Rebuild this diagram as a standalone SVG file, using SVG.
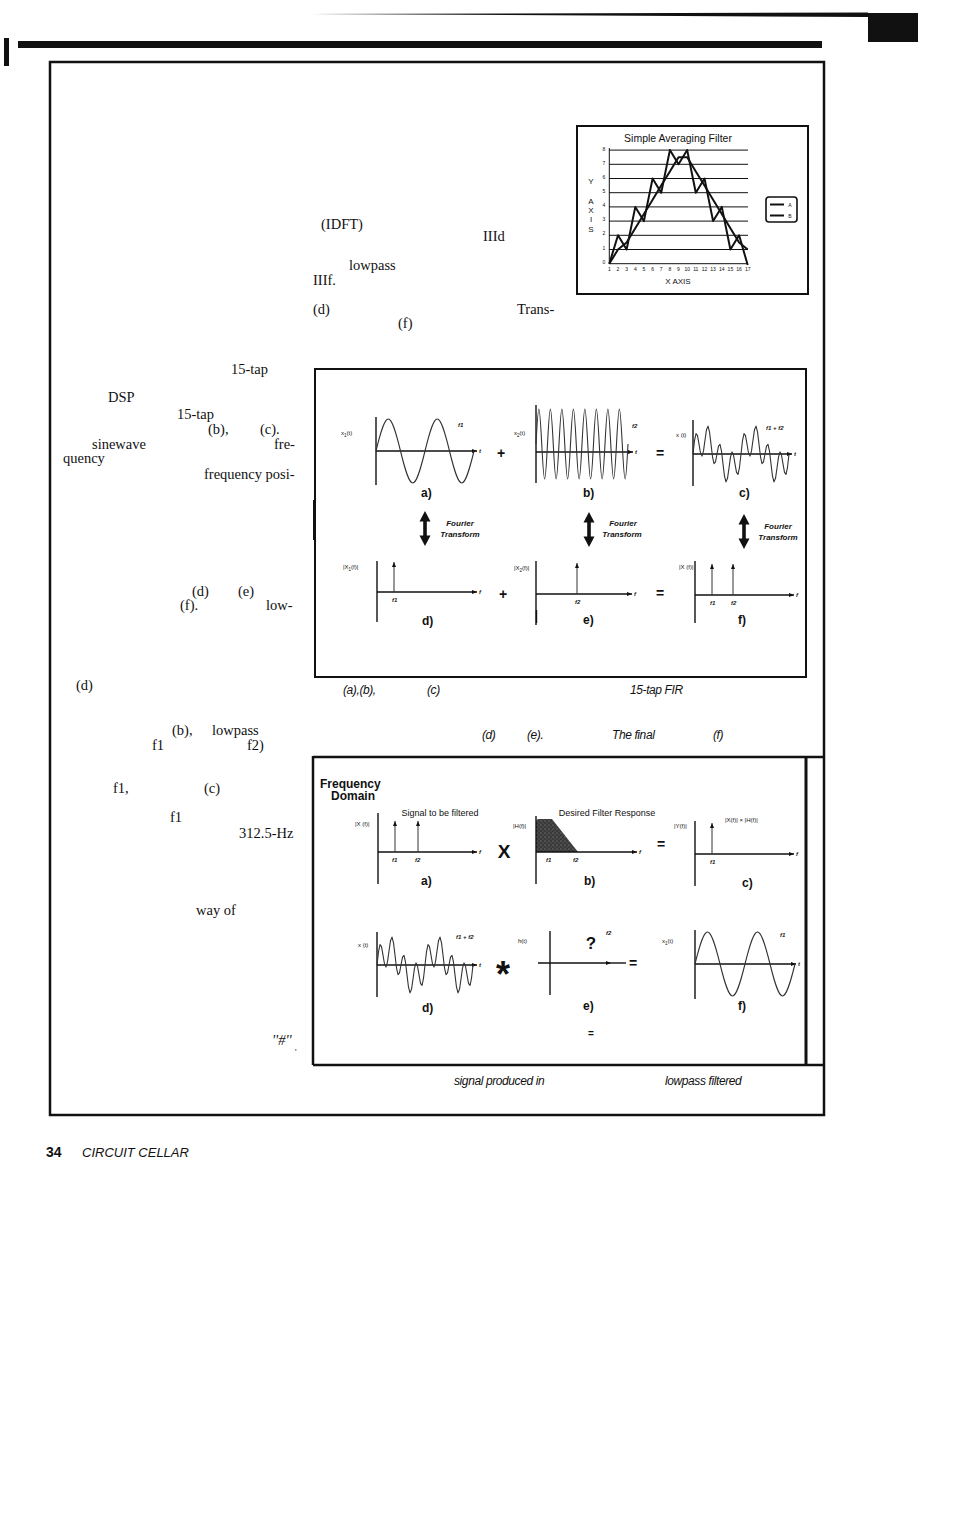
<svg xmlns="http://www.w3.org/2000/svg" width="963" height="1539" viewBox="0 0 963 1539">
<style>
.body{font-family:"Liberation Serif","DejaVu Serif",serif;font-size:14.5px;fill:#111}
.cap{font-family:"Liberation Sans",Arial,sans-serif;font-style:italic;font-size:12px;fill:#111;letter-spacing:-0.4px}
.ttl{font-family:"Liberation Sans",Arial,sans-serif;fill:#111}
.lbl{font-family:"Liberation Sans",Arial,sans-serif;font-size:6px;fill:#111}
.lbi{font-family:"Liberation Sans",Arial,sans-serif;font-size:6px;font-style:italic;font-weight:bold;fill:#111}
.fl{font-family:"Liberation Sans",Arial,sans-serif;font-size:12px;font-weight:bold;fill:#111}
.op{font-family:"Liberation Sans",Arial,sans-serif;font-weight:bold;fill:#111}
.ft{font-family:"Liberation Sans",Arial,sans-serif;font-size:8px;font-weight:bold;font-style:italic;fill:#111;text-anchor:middle}
.ax{stroke:#111;stroke-width:1.4;fill:none}
.axa{stroke:#111;stroke-width:1.4;fill:none;marker-end:url(#tip)}
.imp{stroke:#333;stroke-width:1;fill:none;marker-end:url(#tip)}
.wave{stroke:#333;stroke-width:1.1;fill:none;stroke-linejoin:round}
.frame{fill:none;stroke:#111}
.grid{stroke:#111;stroke-width:1}
.ser{stroke:#111;stroke-width:2;fill:none;stroke-linejoin:round}
.tick{font-family:"Liberation Sans",Arial,sans-serif;font-size:5px;fill:#111;text-anchor:middle}
</style>
<defs>
<marker id="tip" markerUnits="userSpaceOnUse" markerWidth="5" markerHeight="4" refX="5" refY="2" orient="auto"><path d="M0,0 L5,2 L0,4 z" fill="#111"/></marker>
<path id="dblarrow" d="M0,-17.5 L5.5,-7 L1.8,-7 L1.8,7 L5.5,7 L0,17.5 L-5.5,7 L-1.8,7 L-1.8,-7 L-5.5,-7 Z" fill="#111"/>
<polyline id="sumwave" class="wave" points="0,0 1.5,-13.3 3,-20.4 4.5,-18.4 6,-9.9 7.5,-1 9,2.1 10.5,-3.1 12,-14 13.5,-24.3 15,-27.9 16.5,-22.2 18,-9.9 19.5,2.8 21,9.6 22.5,7.9 24,0 25.5,-7.9 27,-9.6 28.5,-2.8 30,9.9 31.5,22.2 33,27.9 34.5,24.3 36,14 37.5,3.1 39,-2.1 40.5,1 42,9.9 43.5,18.4 45,20.4 46.5,13.3 48,0 49.5,-13.3 51,-20.4 52.5,-18.4 54,-9.9 55.5,-1 57,2.1 58.5,-3.1 60,-14 61.5,-24.3 63,-27.9 64.5,-22.2 66,-9.9 67.5,2.8 69,9.6 70.5,7.9 72,0 73.5,-7.9 75,-9.6 76.5,-2.8 78,9.9 79.5,22.2 81,27.9 82.5,24.3 84,14 85.5,3.1 87,-2.1 88.5,1 90,9.9 91.5,18.4 93,20.4 94.5,13.3 96,0"/>
<pattern id="stip" width="4" height="4" patternUnits="userSpaceOnUse"><rect width="4" height="4" fill="#3a3a3a"/><circle cx="1" cy="1" r="0.6" fill="#9a9a9a"/><circle cx="3" cy="3" r="0.5" fill="#777"/></pattern>
</defs>

<g id="page-decor">
<polygon points="310,14 868,12.5 868,17" fill="#111"/>
<rect x="868" y="13" width="50" height="29" fill="#111"/>
<rect x="18" y="41" width="804" height="7" fill="#111"/>
<rect x="4" y="38" width="5" height="28" fill="#111"/>
<rect x="50" y="62" width="774" height="1053" class="frame" stroke-width="2.5"/>
</g>

<g id="body-text">
<text class="body" x="321" y="229">(IDFT)</text>
<text class="body" x="483" y="241">IIId</text>
<text class="body" x="349" y="270">lowpass</text>
<text class="body" x="313" y="285">IIIf.</text>
<text class="body" x="313" y="314">(d)</text>
<text class="body" x="517" y="314">Trans-</text>
<text class="body" x="398" y="328">(f)</text>
<text class="body" x="231" y="374">15-tap</text>
<text class="body" x="108" y="402">DSP</text>
<text class="body" x="177" y="419">15-tap</text>
<text class="body" x="208" y="434">(b),</text>
<text class="body" x="260" y="434">(c).</text>
<text class="body" x="92" y="449">sinewave</text>
<text class="body" x="274" y="449">fre-</text>
<text class="body" x="63" y="463">quency</text>
<text class="body" x="204" y="479">frequency posi-</text>
<text class="body" x="192" y="596">(d)</text>
<text class="body" x="238" y="596">(e)</text>
<text class="body" x="180" y="610">(f).</text>
<text class="body" x="266" y="610">low-</text>
<text class="body" x="76" y="690">(d)</text>
<text class="body" x="172" y="735">(b),</text>
<text class="body" x="212" y="735">lowpass</text>
<text class="body" x="152" y="750">f1</text>
<text class="body" x="247" y="750">f2)</text>
<text class="body" x="113" y="793">f1,</text>
<text class="body" x="204" y="793">(c)</text>
<text class="body" x="170" y="822">f1</text>
<text class="body" x="239" y="838">312.5-Hz</text>
<text class="body" x="196" y="915">way of</text>
<text class="body" x="272" y="1045" font-size="7" font-style="italic">''#''<tspan dx="3" dy="5" font-size="8">,</tspan></text>
</g>

<g id="chart">
<rect x="577" y="126" width="231" height="168" class="frame" stroke-width="2"/>
<text class="ttl" x="678" y="142" font-size="10.5" text-anchor="middle">Simple Averaging Filter</text>
<g>
<line class="grid" x1="609" y1="150.1" x2="748" y2="150.1"/>
<line class="grid" x1="609" y1="164.3" x2="748" y2="164.3"/>
<line class="grid" x1="609" y1="178.5" x2="748" y2="178.5"/>
<line class="grid" x1="609" y1="192.7" x2="748" y2="192.7"/>
<line class="grid" x1="609" y1="206.9" x2="748" y2="206.9"/>
<line class="grid" x1="609" y1="221.1" x2="748" y2="221.1"/>
<line class="grid" x1="609" y1="235.3" x2="748" y2="235.3"/>
<line class="grid" x1="609" y1="249.5" x2="748" y2="249.5"/>
<line class="grid" x1="609" y1="263.7" x2="748" y2="263.7" stroke-width="1.3"/>
<line class="grid" x1="609.3" y1="148" x2="609.3" y2="264" stroke-width="1.3"/>
</g>
<g class="tick">
<text x="604" y="151">8</text><text x="604" y="165">7</text><text x="604" y="179">6</text><text x="604" y="193">5</text><text x="604" y="207">4</text><text x="604" y="221">3</text><text x="604" y="235">2</text><text x="604" y="250">1</text><text x="604" y="264">0</text>
<text x="609.3" y="271">1</text><text x="618" y="271">2</text><text x="626.6" y="271">3</text><text x="635.3" y="271">4</text><text x="643.9" y="271">5</text><text x="652.6" y="271">6</text><text x="661.2" y="271">7</text><text x="669.9" y="271">8</text><text x="678.5" y="271">9</text><text x="687.2" y="271">10</text><text x="695.8" y="271">11</text><text x="704.5" y="271">12</text><text x="713.1" y="271">13</text><text x="721.8" y="271">14</text><text x="730.4" y="271">15</text><text x="739.1" y="271">16</text><text x="747.7" y="271">17</text>
</g>
<polyline class="ser" points="609.3,263.7 618,235.3 626.6,249.5 635.3,206.9 643.9,221.1 652.6,178.5 661.2,192.7 669.9,150.1 678.5,164.3 687.2,150.1 695.8,192.7 704.5,178.5 713.1,221.1 721.8,206.9 730.4,249.5 739.1,235.3 747.7,265"/>
<polyline class="ser" points="609.3,263.7 618,249.5 626.6,242.4 635.3,228.2 643.9,214 652.6,199.8 661.2,185.6 669.9,171.4 678.5,157.2 687.2,157.2 695.8,171.4 704.5,185.6 713.1,199.8 721.8,214 730.4,228.2 739.1,242.4 747.7,249.5"/>
<g class="ttl" font-size="8" text-anchor="middle">
<text x="591" y="184">Y</text><text x="591" y="204">A</text><text x="591" y="213">X</text><text x="591" y="222">I</text><text x="591" y="232">S</text>
<text x="678" y="284">X AXIS</text>
</g>
<g id="legend">
<rect x="766" y="197" width="31" height="25" rx="3" class="frame" stroke-width="1.6"/>
<line x1="770" y1="204.5" x2="784" y2="204.5" stroke="#111" stroke-width="2"/>
<line x1="770" y1="215.5" x2="784" y2="215.5" stroke="#111" stroke-width="2"/>
<text class="tick" x="790" y="206.5">A</text>
<text class="tick" x="790" y="217.5">B</text>
</g>
</g>

<g id="fig-time-freq">
<rect x="315" y="369" width="491" height="308" class="frame" stroke-width="2"/>
<rect x="313" y="500" width="3" height="40" fill="#111"/>
<g id="fig1-a">
<text class="lbl" x="341" y="435">x<tspan font-size="4.5" dy="1.5">1</tspan><tspan dy="-1.5">(t)</tspan></text>
<line class="ax" x1="376" y1="417" x2="376" y2="485"/>
<line class="axa" x1="376" y1="451" x2="477" y2="451"/>
<text class="lbi" x="479" y="453">t</text>
<path class="wave" d="M376 451 c10.4 -42.7 14.1 -42.7 24.5 0 s14.1 42.7 24.5 0 s14.1 -42.7 24.5 0 s14.1 42.7 24.5 0"/>
<text class="lbi" x="458" y="427">f1</text>
<text class="fl" x="421" y="497">a)</text>
</g>
<text class="op" x="501" y="458" font-size="14" text-anchor="middle">+</text>
<g id="fig1-b">
<text class="lbl" x="514" y="435">x<tspan font-size="4.5" dy="1.5">2</tspan><tspan dy="-1.5">(t)</tspan></text>
<line class="ax" x1="536" y1="405" x2="536" y2="483"/>
<line class="axa" x1="536" y1="452" x2="633" y2="452"/>
<text class="lbi" x="635" y="454">t</text>
<path class="wave" d="M536 444 c2.44 -46.7 3.31 -46.7 5.75 0 s3.31 46.7 5.75 0 s3.31 -46.7 5.75 0 s3.31 46.7 5.75 0 s3.31 -46.7 5.75 0 s3.31 46.7 5.75 0 s3.31 -46.7 5.75 0 s3.31 46.7 5.75 0 s3.31 -46.7 5.75 0 s3.31 46.7 5.75 0 s3.31 -46.7 5.75 0 s3.31 46.7 5.75 0 s3.31 -46.7 5.75 0 s3.31 46.7 5.75 0 s3.31 -46.7 5.75 0 s3.31 46.7 5.75 0"/>
<text class="lbi" x="632" y="428">f2</text>
<text class="fl" x="583" y="497">b)</text>
</g>
<text class="op" x="660" y="458" font-size="14" text-anchor="middle">=</text>
<g id="fig1-c">
<text class="lbl" x="676" y="437">x (t)</text>
<line class="ax" x1="693" y1="420" x2="693" y2="486"/>
<line class="axa" x1="693" y1="454" x2="792" y2="454"/>
<text class="lbi" x="794" y="456">t</text>
<use href="#sumwave" x="693" y="454"/>
<text class="lbi" x="766" y="430">f1 + f2</text>
<text class="fl" x="739" y="497">c)</text>
</g>
<g id="fig1-d">
<text class="lbl" x="343" y="569">|X<tspan font-size="4.5" dy="1.5">1</tspan><tspan dy="-1.5">(f)|</tspan></text>
<line class="ax" x1="377" y1="561" x2="377" y2="622"/>
<line class="axa" x1="377" y1="592" x2="477" y2="592"/>
<text class="lbi" x="479" y="594">f</text>
<line class="imp" x1="394" y1="592" x2="394" y2="562"/>
<text class="lbi" x="392" y="602">f1</text>
<text class="fl" x="422" y="625">d)</text>
</g>
<text class="op" x="503" y="599" font-size="14" text-anchor="middle">+</text>
<g id="fig1-e">
<text class="lbl" x="514" y="570">|X<tspan font-size="4.5" dy="1.5">2</tspan><tspan dy="-1.5">(f)|</tspan></text>
<line class="ax" x1="536" y1="561" x2="536" y2="625"/>
<line class="ax" x1="536.5" y1="610" x2="536.5" y2="623" stroke-width="2.2"/>
<line class="axa" x1="536" y1="594" x2="632" y2="594"/>
<text class="lbi" x="634" y="596">f</text>
<line class="imp" x1="577" y1="594" x2="577" y2="563"/>
<text class="lbi" x="575" y="604">f2</text>
<text class="fl" x="583" y="624">e)</text>
</g>
<text class="op" x="660" y="598" font-size="14" text-anchor="middle">=</text>
<g id="fig1-f">
<text class="lbl" x="679" y="569">|X (f)|</text>
<line class="ax" x1="695" y1="561" x2="695" y2="623"/>
<line class="axa" x1="695" y1="595" x2="794" y2="595"/>
<text class="lbi" x="796" y="597">f</text>
<line class="imp" x1="712" y1="595" x2="712" y2="564"/>
<line class="imp" x1="733" y1="595" x2="733" y2="564"/>
<text class="lbi" x="710" y="605">f1</text>
<text class="lbi" x="731" y="605">f2</text>
<text class="fl" x="738" y="624">f)</text>
</g>
</g>

<g id="connectors">
<use href="#dblarrow" x="425" y="528.5"/>
<use href="#dblarrow" x="589" y="529.5"/>
<use href="#dblarrow" x="744" y="531.5"/>
<text class="ft" x="460" y="526">Fourier</text>
<text class="ft" x="460" y="537">Transform</text>
<text class="ft" x="623" y="526">Fourier</text>
<text class="ft" x="622" y="537">Transform</text>
<text class="ft" x="778" y="529">Fourier</text>
<text class="ft" x="778" y="540">Transform</text>
</g>

<g id="caption-1">
<text class="cap" x="343" y="694">(a),(b),</text>
<text class="cap" x="427" y="694">(c)</text>
<text class="cap" x="630" y="694">15-tap FIR</text>
<text class="cap" x="482" y="739">(d)</text>
<text class="cap" x="527" y="739">(e).</text>
<text class="cap" x="612" y="739">The final</text>
<text class="cap" x="713" y="739">(f)</text>
</g>

<g id="fig-filter">
<path d="M313,757 H824 M313,756 V1065 M313,1065 H824" class="frame" stroke-width="2.5"/>
<line x1="806" y1="756" x2="806" y2="1065" stroke="#111" stroke-width="3"/>
<text class="ttl" x="320" y="788" font-size="12" font-weight="bold">Frequency</text>
<text class="ttl" x="331" y="800" font-size="12" font-weight="bold">Domain</text>
<g id="fig2-a">
<text class="ttl" x="440" y="816" font-size="9" text-anchor="middle">Signal to be filtered</text>
<text class="lbl" x="355" y="826">|X (f)|</text>
<line class="ax" x1="378" y1="813" x2="378" y2="884"/>
<line class="axa" x1="378" y1="852" x2="477" y2="852"/>
<text class="lbi" x="479" y="854">f</text>
<line class="imp" x1="395" y1="852" x2="395" y2="821"/>
<line class="imp" x1="418" y1="852" x2="418" y2="821"/>
<text class="lbi" x="392" y="862">f1</text>
<text class="lbi" x="415" y="862">f2</text>
<text class="fl" x="421" y="885">a)</text>
</g>
<text class="op" x="504" y="858" font-size="19" text-anchor="middle">X</text>
<g id="fig2-b">
<text class="ttl" x="607" y="816" font-size="9" text-anchor="middle">Desired Filter Response</text>
<text class="lbl" x="513" y="828">|H(f)|</text>
<path d="M536,852 L536,822 Q536,819 539,819 L552,819 L578,852 Z" fill="url(#stip)"/>
<line class="ax" x1="536" y1="816" x2="536" y2="884"/>
<line class="axa" x1="536" y1="852" x2="637" y2="852"/>
<text class="lbi" x="639" y="854">f</text>
<text class="lbi" x="546" y="862">f1</text>
<text class="lbi" x="573" y="862">f2</text>
<text class="fl" x="584" y="885">b)</text>
</g>
<text class="op" x="661" y="849" font-size="14" text-anchor="middle">=</text>
<g id="fig2-c">
<text class="lbl" x="725" y="822" font-size="4.8">|X(f)| × |H(f)|</text>
<text class="lbl" x="674" y="828">|Y(f)|</text>
<line class="ax" x1="695" y1="821" x2="695" y2="886"/>
<line class="axa" x1="695" y1="854" x2="794" y2="854"/>
<text class="lbi" x="796" y="856">f</text>
<line class="imp" x1="712" y1="854" x2="712" y2="823"/>
<text class="lbi" x="710" y="864">f1</text>
<text class="fl" x="742" y="887">c)</text>
</g>
<g id="fig2-d">
<text class="lbl" x="358" y="947">x (t)</text>
<line class="ax" x1="377" y1="932" x2="377" y2="997"/>
<line class="axa" x1="377" y1="965" x2="477" y2="965"/>
<text class="lbi" x="479" y="967">t</text>
<use href="#sumwave" x="377" y="965"/>
<text class="lbi" x="456" y="939">f1 + f2</text>
<text class="fl" x="422" y="1012">d)</text>
</g>
<text class="op" x="503" y="987" font-size="36" font-family="DejaVu Sans" text-anchor="middle">*</text>
<g id="fig2-e">
<text class="lbl" x="518" y="943">h(t)</text>
<line class="ax" x1="550" y1="931" x2="550" y2="995"/>
<line class="axa" x1="538" y1="963" x2="611" y2="963"/>
<line class="ax" x1="611" y1="963" x2="626" y2="963"/>
<text class="op" x="591" y="949" font-size="17" text-anchor="middle">?</text>
<text class="lbi" x="606" y="935">f2</text>
<text class="fl" x="583" y="1010">e)</text>
<text class="op" x="591" y="1037" font-size="10" text-anchor="middle">=</text>
</g>
<text class="op" x="633" y="968" font-size="14" text-anchor="middle">=</text>
<g id="fig2-f">
<text class="lbl" x="662" y="943">x<tspan font-size="4.5" dy="1.5">1</tspan><tspan dy="-1.5">(t)</tspan></text>
<line class="ax" x1="695" y1="930" x2="695" y2="999"/>
<line class="axa" x1="695" y1="964" x2="796" y2="964"/>
<text class="lbi" x="798" y="966">t</text>
<path class="wave" d="M695 964 c10.6 -42.7 14.4 -42.7 25 0 s14.4 42.7 25 0 s14.4 -42.7 25 0 s14.4 42.7 25 0"/>
<text class="lbi" x="780" y="937">f1</text>
<text class="fl" x="738" y="1010">f)</text>
</g>
</g>

<g id="caption-2">
<text class="cap" x="454" y="1085">signal produced in</text>
<text class="cap" x="665" y="1085">lowpass filtered</text>
</g>

<g id="footer">
<text class="ttl" x="46" y="1157" font-size="14" font-weight="bold">34</text>
<text class="ttl" x="82" y="1157" font-size="13" font-style="italic">CIRCUIT CELLAR</text>
</g>
</svg>
